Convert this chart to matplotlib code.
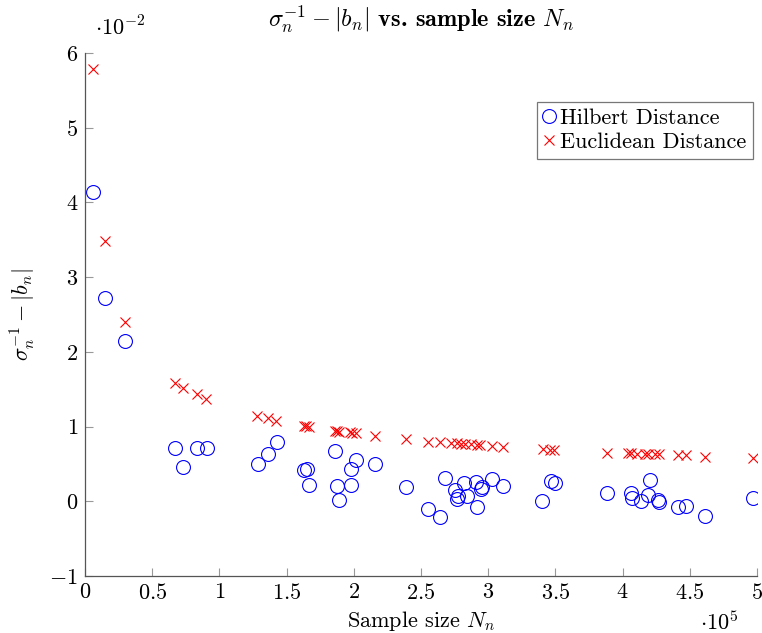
import matplotlib
matplotlib.use("Agg")
import matplotlib.pyplot as plt
from matplotlib.ticker import FuncFormatter

plt.rcParams["font.family"] = "serif"
plt.rcParams["font.serif"] = ["cmr10"]
plt.rcParams["mathtext.fontset"] = "cm"
plt.rcParams["axes.formatter.use_mathtext"] = True

# x in units of 1e5, y in units of 1e-2
hilbert_n = [0.06, 0.15, 0.30, 0.67, 0.73, 0.83, 0.91, 1.29, 1.36, 1.43,
             1.63, 1.65, 1.67, 1.86, 1.875, 1.89, 1.98, 1.98, 2.02, 2.16,
             2.39, 2.55, 2.64, 2.68, 2.75, 2.775, 2.77, 2.82, 2.84, 2.91,
             2.92, 2.95, 2.955, 3.03, 3.11, 3.40, 3.47, 3.50, 3.88, 4.06,
             4.07, 4.14, 4.20, 4.19, 4.26, 4.27, 4.41, 4.47, 4.61, 4.97]
hilbert_val = [4.14, 2.72, 2.14, 0.71, 0.46, 0.71, 0.71, 0.50, 0.63, 0.79,
               0.42, 0.43, 0.22, 0.67, 0.20, 0.02, 0.43, 0.22, 0.55, 0.50,
               0.19, -0.10, -0.21, 0.31, 0.15, 0.07, 0.03, 0.24, 0.07, 0.26,
               -0.08, 0.16, 0.19, 0.30, 0.20, 0.00, 0.27, 0.24, 0.11, 0.11,
               0.04, 0.00, 0.28, 0.08, 0.02, -0.01, -0.08, -0.06, -0.20, 0.04]

euclid_n = [0.06, 0.15, 0.30, 0.67, 0.73, 0.83, 0.90, 1.28, 1.36, 1.42,
            1.63, 1.645, 1.67, 1.86, 1.875, 1.89, 1.97, 1.99, 2.02, 2.16,
            2.39, 2.55, 2.64, 2.72, 2.77, 2.80, 2.83, 2.87, 2.92, 2.94,
            3.03, 3.11, 3.41, 3.46, 3.49, 3.88, 4.04, 4.06, 4.11, 4.17,
            4.19, 4.24, 4.27, 4.41, 4.47, 4.61, 4.97]
euclid_val = [5.79, 3.48, 2.40, 1.58, 1.52, 1.44, 1.37, 1.14, 1.11, 1.07,
              1.01, 1.01, 0.99, 0.94, 0.94, 0.93, 0.93, 0.91, 0.91, 0.87,
              0.83, 0.79, 0.79, 0.78, 0.78, 0.77, 0.77, 0.77, 0.75, 0.75,
              0.74, 0.73, 0.70, 0.69, 0.69, 0.65, 0.65, 0.65, 0.63, 0.63,
              0.63, 0.63, 0.63, 0.62, 0.62, 0.59, 0.58]

x_ticks = [0, 0.5, 1, 1.5, 2, 2.5, 3, 3.5, 4, 4.5, 5]
y_ticks = [-1, 0, 1, 2, 3, 4, 5, 6]

fig = plt.figure(figsize=(7.62, 6.33), dpi=100)
ax = fig.add_axes([0.1115, 0.090, 0.882, 0.8265])

ax.plot(hilbert_n, hilbert_val, linestyle="none", marker="o", markersize=10,
        markerfacecolor="none", markeredgecolor="blue", markeredgewidth=0.8,
        label="Hilbert Distance")
ax.plot(euclid_n, euclid_val, linestyle="none", marker="x", markersize=6.5,
        color="red", markeredgewidth=0.8, label="Euclidean Distance")

ax.set_xlim(0, 5)
ax.set_ylim(-1, 6)
ax.set_xticks(x_ticks)
ax.set_yticks(y_ticks)
fmt = FuncFormatter(lambda v, p: f"${v:g}$")
ax.xaxis.set_major_formatter(fmt)
ax.yaxis.set_major_formatter(fmt)
ax.tick_params(direction="in", length=6, width=0.8, color="#999999",
               labelsize=16, pad=5)

ax.spines["top"].set_visible(False)
ax.spines["right"].set_visible(False)
for s in ("left", "bottom"):
    ax.spines[s].set_color("#555555")
    ax.spines[s].set_linewidth(0.9)

ax.set_xlabel("Sample size $N_n$", fontsize=16, labelpad=4)
ax.set_ylabel(r"$\sigma_n^{-1} - |b_n|$", fontsize=16, labelpad=8)
ax.set_title(r"$\sigma_n^{-1} - |b_n|$ vs. sample size $N_n$",
             fontsize=17.5, family="cmb10", pad=19)

ax.text(0.015, 1.025, r"$\cdot 10^{-2}$", transform=ax.transAxes, fontsize=16,
        ha="left", va="bottom")
ax.text(0.915, -0.065, r"$\cdot 10^{5}$", transform=ax.transAxes, fontsize=16,
        ha="left", va="top")

leg = ax.legend(loc="upper right", bbox_to_anchor=(0.994, 0.906), fontsize=16,
                frameon=True, fancybox=False, handlelength=0.5,
                handletextpad=0.25, borderpad=0.3, labelspacing=0.2,
                borderaxespad=0)
leg.get_frame().set_edgecolor("#555555")
leg.get_frame().set_linewidth(0.9)

fig.savefig("out.png", dpi=100)
